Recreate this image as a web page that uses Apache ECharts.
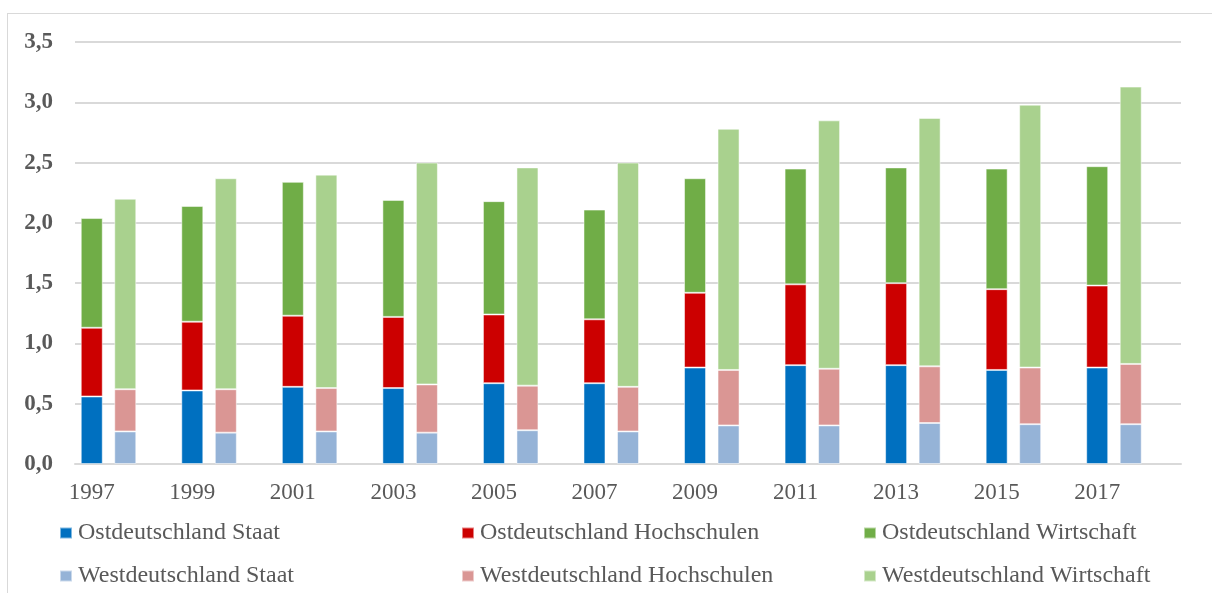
<!DOCTYPE html>
<html lang="de">
<head>
    <meta charset="UTF-8">
    <title>FuE-Ausgaben Ost/West</title>
    <script src="https://cdn.jsdelivr.net/npm/echarts@6/dist/echarts.min.js"></script>
    <style>
        html, body {
            margin: 0;
            padding: 0;
            background: #ffffff;
        }
        .frame {
            position: absolute;
            left: 7px;
            top: 13px;
            width: 1300px;
            height: 700px;
            border-left: 1px solid #d9d9d9;
            border-top: 1px solid #d9d9d9;
        }
        #chart {
            position: absolute;
            left: 0;
            top: 0;
            width: 1212px;
            height: 593px;
        }
    </style>
</head>
<body>
<div class="frame"></div>
<div id="chart"></div>
<script>
    // Jahre (jeweils Ost- und Westbalken)
    var years = ['1997', '1999', '2001', '2003', '2005', '2007', '2009', '2011', '2013', '2015', '2017'];

    // Ostdeutschland
    var ostStaat = [0.56, 0.61, 0.64, 0.63, 0.67, 0.67, 0.80, 0.82, 0.82, 0.78, 0.80];
    var ostHochschulen = [0.57, 0.57, 0.59, 0.59, 0.57, 0.53, 0.62, 0.67, 0.68, 0.67, 0.68];
    var ostWirtschaft = [0.91, 0.96, 1.11, 0.97, 0.94, 0.91, 0.95, 0.96, 0.96, 1.00, 0.99];

    // Westdeutschland
    var westStaat = [0.27, 0.26, 0.27, 0.26, 0.28, 0.27, 0.32, 0.32, 0.34, 0.33, 0.33];
    var westHochschulen = [0.35, 0.36, 0.36, 0.40, 0.37, 0.37, 0.46, 0.47, 0.47, 0.47, 0.50];
    var westWirtschaft = [1.58, 1.75, 1.77, 1.84, 1.81, 1.86, 2.00, 2.06, 2.06, 2.18, 2.30];

    var yTicks = [0, 0.5, 1, 1.5, 2, 2.5, 3, 3.5];

    // jedes Jahr bekommt drei Plaetze: Ost, West, Luecke
    var categories = [];
    years.forEach(function (y) {
        categories.push(y, ' ', '  ');
    });

    function slots(values, offset) {
        var out = [];
        values.forEach(function (v) {
            for (var k = 0; k < 3; k++) {
                out.push(k === offset ? v : '-');
            }
        });
        return out;
    }

    var font = 'Liberation Serif, Times New Roman, serif';
    var textColor = '#595959';

    var seriesDefs = [
        { name: 'Ostdeutschland Staat', data: ostStaat, offset: 0, stack: 'ost', color: '#0070c0' },
        { name: 'Ostdeutschland Hochschulen', data: ostHochschulen, offset: 0, stack: 'ost', color: '#cc0000' },
        { name: 'Ostdeutschland Wirtschaft', data: ostWirtschaft, offset: 0, stack: 'ost', color: '#70ad47' },
        { name: 'Westdeutschland Staat', data: westStaat, offset: 1, stack: 'west', color: '#95b3d7' },
        { name: 'Westdeutschland Hochschulen', data: westHochschulen, offset: 1, stack: 'west', color: '#da9694' },
        { name: 'Westdeutschland Wirtschaft', data: westWirtschaft, offset: 1, stack: 'west', color: '#a9d18e' }
    ];

    var series = seriesDefs.map(function (s) {
        return {
            name: s.name,
            type: 'bar',
            stack: s.stack,
            barWidth: 22,
            barGap: '-100%',
            data: slots(s.data, s.offset),
            itemStyle: {
                color: s.color,
                borderColor: 'rgba(255,255,255,0.5)',
                borderWidth: 1
            }
        };
    });

    // Legende: zwei Zeilen, drei Spalten
    var legendLeft = [59, 461, 863];
    var legendTop = [521, 564];
    var legends = seriesDefs.map(function (s, i) {
        return {
            data: [s.name],
            left: legendLeft[i % 3],
            top: legendTop[Math.floor(i / 3)],
            padding: 0,
            icon: 'rect',
            itemWidth: 12,
            itemHeight: 11,
            selectedMode: false,
            textStyle: {
                fontFamily: font,
                fontSize: 24,
                color: textColor,
                padding: [0, 0, 0, 1]
            }
        };
    });

    var chart = echarts.init(document.getElementById('chart'));
    chart.setOption({
        animation: false,
        backgroundColor: 'transparent',
        legend: legends,
        grid: {
            left: 75,
            right: 31,
            top: 42,
            bottom: 129,
            containLabel: false
        },
        xAxis: {
            type: 'category',
            data: categories,
            axisTick: { show: false },
            axisLine: { lineStyle: { color: '#d9d9d9', width: 2 } },
            axisLabel: {
                interval: 0,
                margin: 17,
                fontFamily: font,
                fontSize: 23,
                color: textColor
            }
        },
        yAxis: {
            type: 'value',
            min: yTicks[0],
            max: yTicks[yTicks.length - 1],
            interval: 0.5,
            axisLine: { show: false },
            axisTick: { show: false },
            splitLine: { lineStyle: { color: '#d9d9d9', width: 2 } },
            axisLabel: {
                margin: 22,
                fontFamily: font,
                fontSize: 23,
                fontWeight: 'bold',
                color: textColor,
                formatter: function (v) {
                    return v.toFixed(1).replace('.', ',');
                }
            }
        },
        series: series
    });
</script>
</body>
</html>
